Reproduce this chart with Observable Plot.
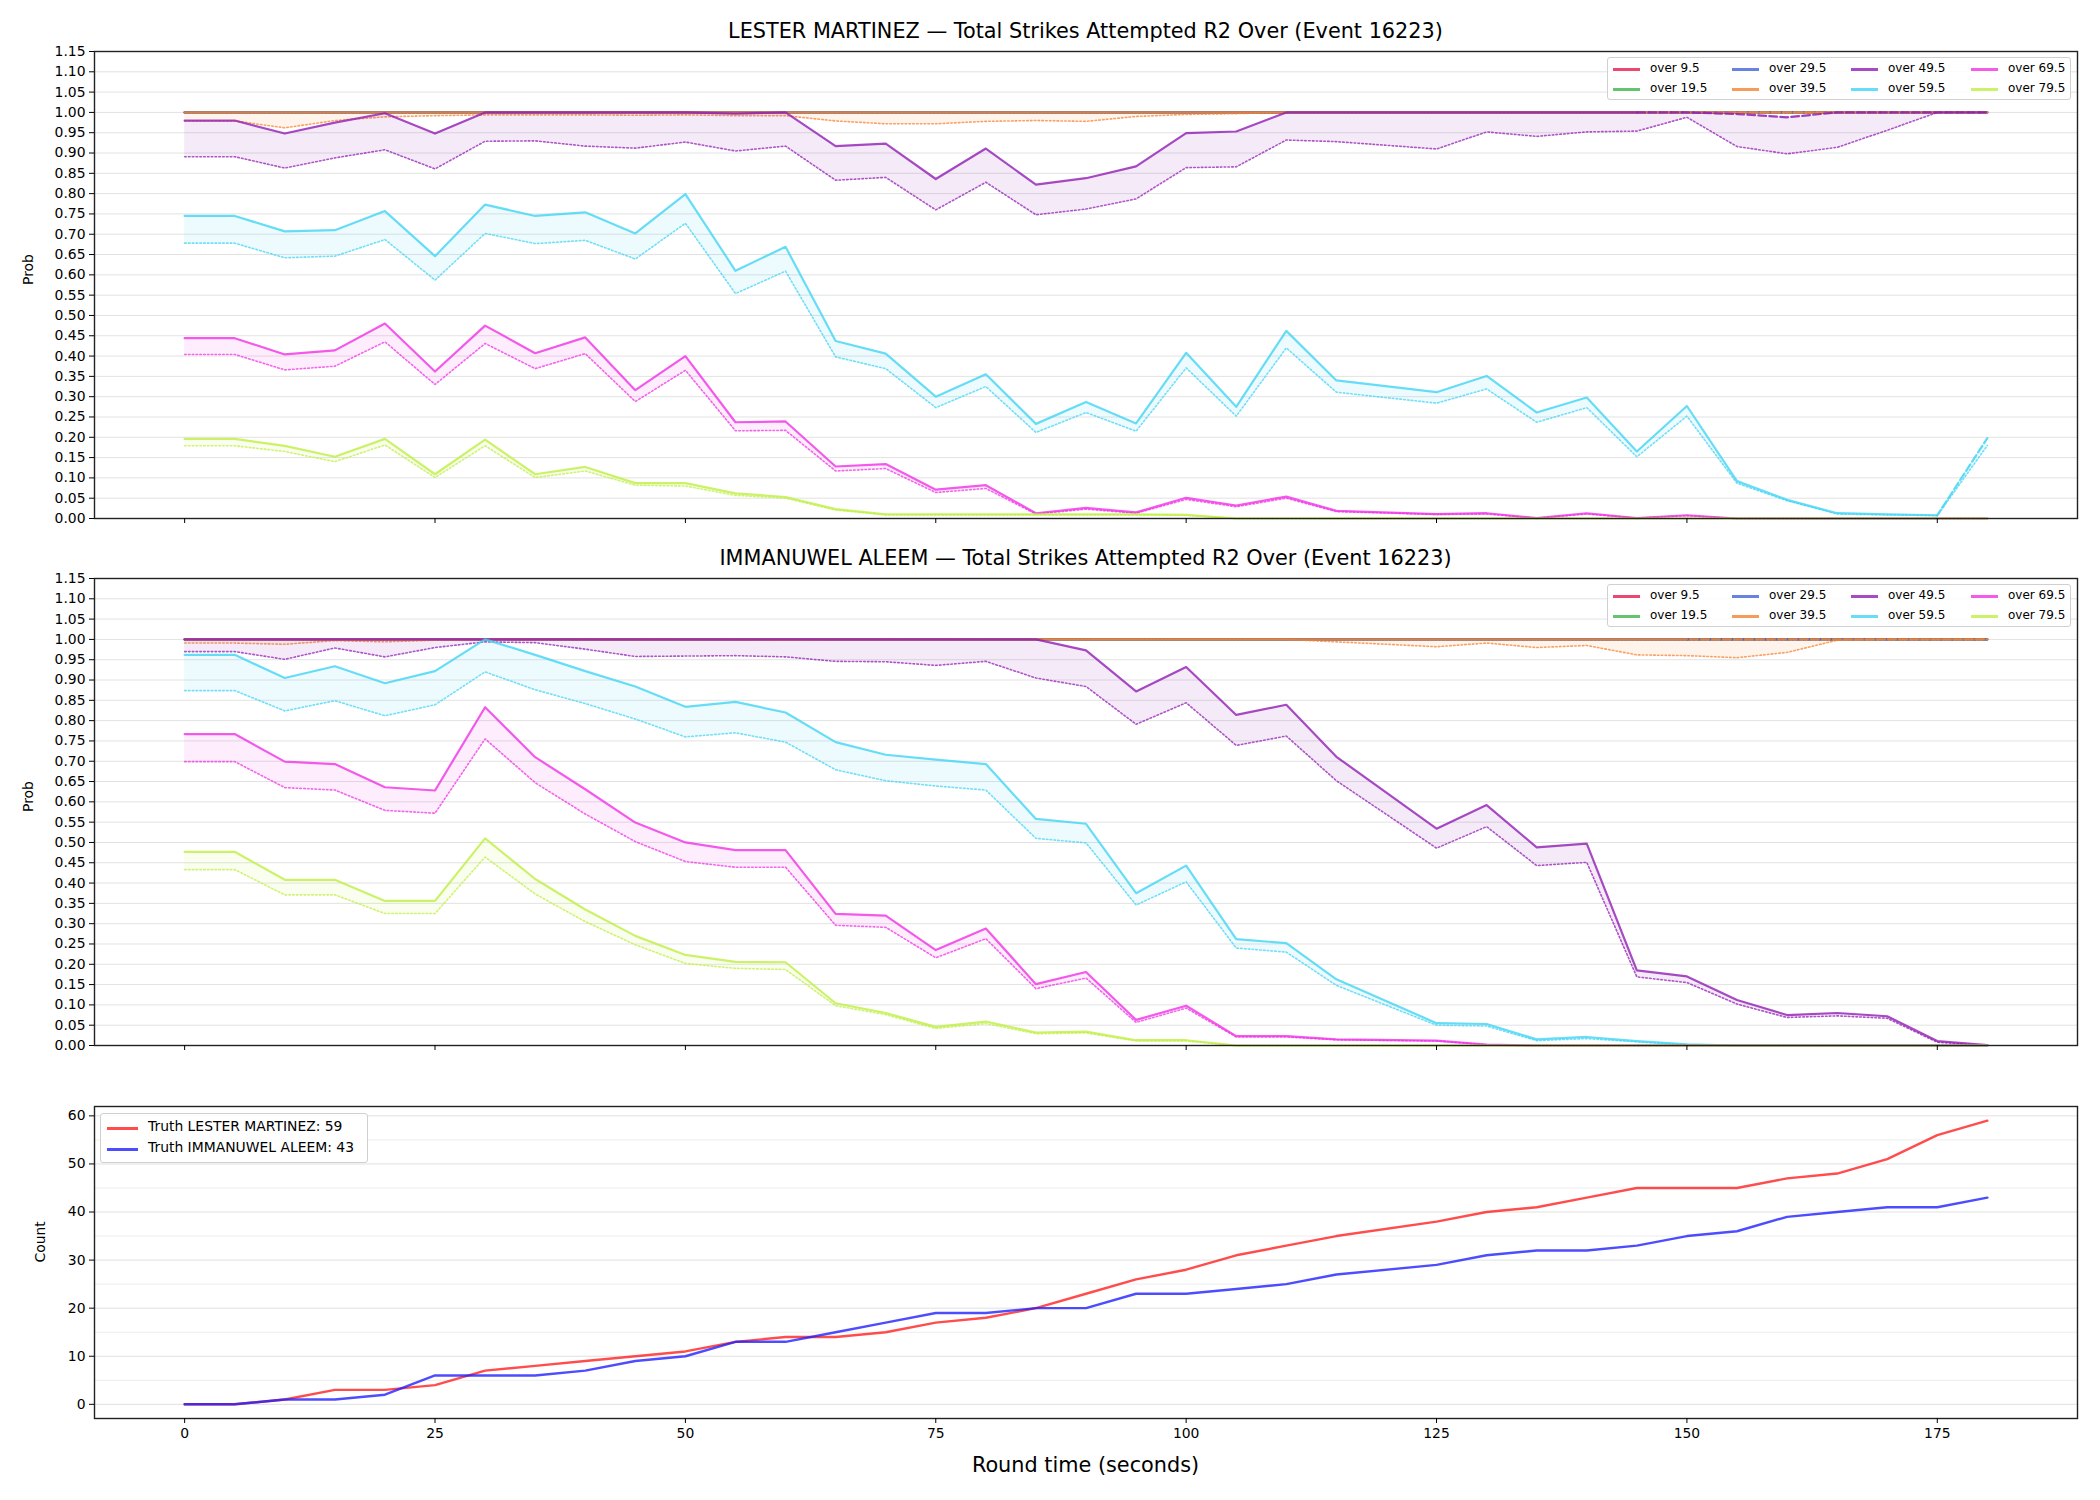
<!DOCTYPE html>
<html><head><meta charset="utf-8">
<script src="https://cdn.jsdelivr.net/npm/d3@7"></script>
<script src="https://cdn.jsdelivr.net/npm/@observablehq/plot@0.6"></script>
<style>
body{margin:0;background:#fff;}
#root{position:relative;width:2100px;height:1500px;font-family:"DejaVu Sans",sans-serif;color:#000;overflow:hidden;background:#fff;}
.title{position:absolute;left:94px;width:1983px;text-align:center;font-size:20.8px;line-height:24px;white-space:nowrap;}
.legend{position:absolute;border:1px solid #d0d0d0;border-radius:3px;background:rgba(255,255,255,0.85);box-sizing:border-box;}
.sw{position:absolute;height:0;}
.lt{position:absolute;white-space:nowrap;line-height:1;}
</style></head><body><div id="root"></div>
<script>
// ---------- data ----------
const times = [0,5,10,15,20,25,30,35,40,45,50,55,60,65,70,75,80,85,90,95,100,105,110,115,125,130,135,140,145,150,155,160,165,170,175,180];
const seriesNames = ["over 9.5","over 19.5","over 29.5","over 39.5","over 49.5","over 59.5","over 69.5","over 79.5"];
const seriesColors = ["#e6194b","#3cb44b","#4363d8","#f58231","#911eb4","#42d4f4","#f032e6","#bfef45"];
const probTicks = [0,0.05,0.10,0.15,0.20,0.25,0.30,0.35,0.40,0.45,0.50,0.55,0.60,0.65,0.70,0.75,0.80,0.85,0.90,0.95,1.00,1.05,1.10,1.15];
const timeTicks = [0,25,50,75,100,125,150,175];
const countTicks = [0,10,20,30,40,50,60];
const countGrid = [0,5,10,15,20,25,30,35,40,45,50,55,60];

// Panel 1: LESTER MARTINEZ
const lm_p09 = [1,1,1,1,1,1,1,1,1,1,1,1,1,1,1,1,1,1,1,1,1,1,1,1,1,1,1,1,1,1,1,1,1,1,1,1];
const lm_p19 = [1,1,1,1,1,1,1,1,1,1,1,1,1,1,1,1,1,1,1,1,1,1,1,1,1,1,1,1,1,1,1,1,1,1,1,1];
const lm_p29 = [1,1,1,1,1,1,1,1,1,1,1,1,1,1,1,1,1,1,1,1,1,1,1,1,1,1,1,1,1,1,1,1,1,1,1,1];
const lm_p39 = [1,1,1,1,1,1,1,1,1,1,1,1,1,1,1,1,1,1,1,1,1,1,1,1,1,1,1,1,1,1,1,1,1,1,1,1];
const lm_p49 = [0.980,0.980,0.948,0.975,0.998,0.948,1,1,1,1,1,0.997,1,0.917,0.923,0.836,0.911,0.822,0.838,0.867,0.949,0.953,1,1,1,1,1,1,1,1,0.996,0.988,1,1,1,1];
const lm_p59 = [0.745,0.745,0.707,0.710,0.757,0.646,0.773,0.745,0.754,0.702,0.799,0.610,0.669,0.437,0.406,0.300,0.355,0.233,0.287,0.234,0.408,0.275,0.462,0.340,0.311,0.351,0.261,0.298,0.165,0.277,0.092,0.046,0.013,0.010,0.008,0.198];
const lm_p69 = [0.444,0.444,0.404,0.414,0.480,0.362,0.475,0.407,0.446,0.316,0.400,0.237,0.239,0.128,0.134,0.071,0.082,0.013,0.026,0.015,0.051,0.032,0.054,0.019,0.011,0.013,0.001,0.013,0.001,0.008,0,0,0,0,0,0];
const lm_p79 = [0.196,0.196,0.179,0.152,0.196,0.109,0.194,0.109,0.127,0.087,0.087,0.062,0.053,0.023,0.010,0.010,0.010,0.010,0.010,0.010,0.009,0,0,0,0,0,0,0,0,0,0,0,0,0,0,0];
const lm_l09 = [1,1,1,1,1,1,1,1,1,1,1,1,1,1,1,1,1,1,1,1,1,1,1,1,1,1,1,1,1,1,1,1,1,1,1,1];
const lm_l19 = [1,1,1,1,1,1,1,1,1,1,1,1,1,1,1,1,1,1,1,1,1,1,1,1,1,1,1,1,1,1,1,1,1,1,1,1];
const lm_l29 = [1,1,1,1,1,1,1,1,1,1,1,1,1,1,1,1,1,1,1,1,1,1,1,1,1,1,1,1,1,1,1,1,1,1,1,1];
const lm_l39 = [0.979,0.979,0.962,0.980,0.989,0.992,0.994,0.994,0.994,0.993,0.994,0.992,0.992,0.979,0.972,0.972,0.978,0.980,0.978,0.990,0.995,0.997,1,1,1,1,1,1,1,1,1,1,1,1,1,1];
const lm_l49 = [0.891,0.891,0.863,0.888,0.908,0.861,0.929,0.930,0.917,0.912,0.927,0.905,0.917,0.833,0.840,0.760,0.828,0.748,0.762,0.787,0.864,0.866,0.932,0.928,0.910,0.952,0.941,0.952,0.954,0.988,0.916,0.898,0.914,0.956,1,1];
const lm_l59 = [0.678,0.678,0.642,0.646,0.687,0.587,0.702,0.677,0.685,0.639,0.727,0.554,0.609,0.398,0.369,0.273,0.325,0.212,0.261,0.215,0.371,0.252,0.420,0.311,0.284,0.319,0.237,0.273,0.152,0.252,0.087,0.044,0.011,0.009,0.007,0.180];
const lm_l69 = [0.404,0.404,0.366,0.375,0.435,0.330,0.431,0.369,0.406,0.288,0.365,0.216,0.217,0.117,0.123,0.064,0.074,0.011,0.023,0.013,0.047,0.029,0.050,0.017,0.010,0.011,0.001,0.011,0.001,0.007,0,0,0,0,0,0];
const lm_l79 = [0.179,0.179,0.165,0.140,0.181,0.101,0.179,0.101,0.117,0.082,0.080,0.057,0.050,0.021,0.009,0.009,0.009,0.009,0.009,0.009,0.008,0,0,0,0,0,0,0,0,0,0,0,0,0,0,0];
const lm_dashFrom = [145,145,145,145,145,175,null,null];

// Panel 2: IMMANUWEL ALEEM
const ia_p09 = [1,1,1,1,1,1,1,1,1,1,1,1,1,1,1,1,1,1,1,1,1,1,1,1,1,1,1,1,1,1,1,1,1,1,1,1];
const ia_p19 = [1,1,1,1,1,1,1,1,1,1,1,1,1,1,1,1,1,1,1,1,1,1,1,1,1,1,1,1,1,1,1,1,1,1,1,1];
const ia_p29 = [1,1,1,1,1,1,1,1,1,1,1,1,1,1,1,1,1,1,1,1,1,1,1,1,1,1,1,1,1,1,1,1,1,1,1,1];
const ia_p39 = [1,1,1,1,1,1,1,1,1,1,1,1,1,1,1,1,1,1,1,1,1,1,1,1,1,1,1,1,1,1,1,1,1,1,1,1];
const ia_p49 = [1,1,1,1,1,1,1,1,1,1,1,1,1,1,1,1,1,1,0.973,0.872,0.932,0.814,0.839,0.711,0.534,0.592,0.488,0.497,0.185,0.170,0.112,0.075,0.080,0.072,0.011,0.001];
const ia_p59 = [0.962,0.962,0.905,0.934,0.892,0.922,1,0.962,0.922,0.884,0.834,0.846,0.820,0.747,0.716,0.704,0.693,0.558,0.546,0.375,0.443,0.262,0.252,0.163,0.055,0.053,0.015,0.021,0.011,0.003,0,0,0,0,0,0];
const ia_p69 = [0.767,0.767,0.699,0.693,0.636,0.628,0.833,0.710,0.631,0.549,0.500,0.481,0.481,0.324,0.320,0.235,0.288,0.151,0.181,0.063,0.098,0.023,0.023,0.015,0.012,0.002,0,0,0,0,0,0,0,0,0,0];
const ia_p79 = [0.477,0.477,0.408,0.408,0.356,0.356,0.510,0.410,0.335,0.270,0.223,0.206,0.205,0.104,0.080,0.046,0.059,0.032,0.034,0.013,0.013,0,0,0,0,0,0,0,0,0,0,0,0,0,0,0];
const ia_l09 = [1,1,1,1,1,1,1,1,1,1,1,1,1,1,1,1,1,1,1,1,1,1,1,1,1,1,1,1,1,1,1,1,1,1,1,1];
const ia_l19 = [1,1,1,1,1,1,1,1,1,1,1,1,1,1,1,1,1,1,1,1,1,1,1,1,1,1,1,1,1,1,1,1,1,1,1,1];
const ia_l29 = [1,1,1,1,1,1,1,1,1,1,1,1,1,1,1,1,1,1,1,1,1,1,1,1,1,1,1,1,1,1,1,1,1,1,1,1];
const ia_l39 = [0.991,0.991,0.988,0.997,0.994,0.998,1,1,1,1,1,1,0.998,1,1,1,1,1,1,1,1,1,1,0.994,0.982,0.991,0.980,0.985,0.962,0.960,0.955,0.968,0.998,1,1,1];
const ia_l49 = [0.970,0.970,0.951,0.979,0.957,0.980,0.994,0.992,0.976,0.958,0.959,0.960,0.957,0.946,0.945,0.936,0.946,0.905,0.884,0.791,0.844,0.739,0.762,0.652,0.486,0.539,0.443,0.451,0.169,0.155,0.102,0.069,0.073,0.067,0.008,0];
const ia_l59 = [0.874,0.874,0.824,0.849,0.812,0.839,0.920,0.876,0.842,0.804,0.760,0.770,0.747,0.679,0.652,0.639,0.629,0.510,0.499,0.346,0.403,0.240,0.230,0.148,0.050,0.048,0.012,0.017,0.009,0.002,0,0,0,0,0,0];
const ia_l69 = [0.699,0.699,0.635,0.629,0.579,0.572,0.755,0.647,0.570,0.502,0.453,0.439,0.439,0.296,0.291,0.216,0.263,0.140,0.166,0.057,0.092,0.021,0.021,0.014,0.011,0.002,0,0,0,0,0,0,0,0,0,0];
const ia_l79 = [0.433,0.433,0.371,0.371,0.325,0.325,0.464,0.373,0.305,0.248,0.202,0.190,0.187,0.098,0.076,0.042,0.054,0.029,0.031,0.011,0.011,0,0,0,0,0,0,0,0,0,0,0,0,0,0,0];
const ia_dashFrom = [150,150,150,150,null,null,null,null];

// Panel 3: truth counts
const truthLester = [0,0,1,3,3,4,7,8,9,10,11,13,14,14,15,17,18,20,23,26,28,31,33,35,38,40,41,43,45,45,45,47,48,51,56,59];
const truthAleem  = [0,0,1,1,2,6,6,6,7,9,10,13,13,15,17,19,19,20,20,23,23,24,25,27,29,31,32,32,33,35,36,39,40,41,41,43];
const truthNames = ["Truth LESTER MARTINEZ: 59","Truth IMMANUWEL ALEEM: 43"];
const truthColors = ["#ff2020","#2020ff"];

const titles = ["LESTER MARTINEZ \u2014 Total Strikes Attempted R2 Over (Event 16223)",
                "IMMANUWEL ALEEM \u2014 Total Strikes Attempted R2 Over (Event 16223)"];

// ---------- drawing ----------
const root = document.getElementById("root");
const FONT = "DejaVu Sans";
const W = 2100, ML = 94, MR = 23;

function place(el, top, left) {
  el.style.position = "absolute";
  el.style.top = top + "px";
  el.style.left = (left || 0) + "px";
  root.appendChild(el);
}

function probPanel(P, L, dashFrom, top) {
  const marks = [Plot.ruleY(probTicks, {y: d => d, stroke: "#e2e2e2", strokeWidth: 1})];
  seriesNames.forEach((name, k) => {
    const rows = times.map((t, i) => ({t, p: P[k][i], lo: L[k][i]}));
    const c = seriesColors[k];
    marks.push(Plot.areaY(rows, {x: "t", y1: "lo", y2: "p", fill: c, fillOpacity: 0.09}));
    marks.push(Plot.line(rows, {x: "t", y: "lo", stroke: c, strokeWidth: 1.6, strokeOpacity: 0.75, strokeDasharray: "1.6,2.2"}));
    const df = dashFrom[k];
    const solid = df == null ? rows : rows.filter(d => d.t <= df);
    const dashed = df == null ? [] : rows.filter(d => d.t >= df);
    marks.push(Plot.line(solid, {x: "t", y: "p", stroke: c, strokeWidth: 2.2, strokeOpacity: 0.8}));
    if (dashed.length) marks.push(Plot.line(dashed, {x: "t", y: "p", stroke: c, strokeWidth: 2.2, strokeOpacity: 0.85, strokeDasharray: "7.7,3.3", strokeDashoffset: k * 2.6}));
  });
  marks.push(Plot.frame({stroke: "#222", strokeWidth: 1.4}));
  marks.push(Plot.axisY(probTicks, {tickSize: 5, tickPadding: 4, tickFormat: d3.format(".2f"), fontSize: 13.9, label: null}));
  marks.push(Plot.axisX(timeTicks, {tickSize: 5, tickFormat: () => "", label: null}));
  marks.push(Plot.text(["Prob"], {frameAnchor: "left", dx: -66, rotate: -90, fontSize: 13.9, text: d => d}));
  const svg = Plot.plot({
    width: W, height: 540, marginTop: 51, marginBottom: 22, marginLeft: ML, marginRight: MR,
    x: {domain: [-9, 189]}, y: {domain: [0, 1.15]},
    style: {fontFamily: FONT, background: "transparent", overflow: "visible"},
    marks
  });
  place(svg, top - 51, 0);
}

function legendProb(plotTop) {
  const box = document.createElement("div");
  box.className = "legend";
  box.style.left = "1607px"; box.style.top = (plotTop + 6) + "px";
  box.style.width = "464px"; box.style.height = "43px";
  const colX = [5, 124, 243, 363];
  const rowY = [11, 31];
  seriesNames.forEach((name, k) => {
    const col = Math.floor(k / 2), row = k % 2;
    const sw = document.createElement("div");
    sw.className = "sw";
    sw.style.left = colX[col] + "px"; sw.style.top = (rowY[row] - 1.5) + "px";
    sw.style.width = "27px"; sw.style.borderTop = "3px solid " + seriesColors[k];
    sw.style.opacity = "0.8";
    box.appendChild(sw);
    const tx = document.createElement("div");
    tx.className = "lt";
    tx.style.left = (colX[col] + 37) + "px"; tx.style.top = (rowY[row] - 7) + "px";
    tx.style.fontSize = "12px";
    tx.textContent = name;
    box.appendChild(tx);
  });
  root.appendChild(box);
}

function title(text, cy) {
  const d = document.createElement("div");
  d.className = "title";
  d.style.top = (cy - 12) + "px";
  d.textContent = text;
  root.appendChild(d);
}

// Panel 1 & 2
probPanel([lm_p09, lm_p19, lm_p29, lm_p39, lm_p49, lm_p59, lm_p69, lm_p79],
          [lm_l09, lm_l19, lm_l29, lm_l39, lm_l49, lm_l59, lm_l69, lm_l79], lm_dashFrom, 51);
legendProb(51);
title(titles[0], 31);

probPanel([ia_p09, ia_p19, ia_p29, ia_p39, ia_p49, ia_p59, ia_p69, ia_p79],
          [ia_l09, ia_l19, ia_l29, ia_l39, ia_l49, ia_l59, ia_l69, ia_l79], ia_dashFrom, 578);
legendProb(578);
title(titles[1], 558);

// Panel 3
{
  const rows = [];
  [truthLester, truthAleem].forEach((arr, k) => times.forEach((t, i) => rows.push({t, v: arr[i], who: truthNames[k]})));
  const marks = [
    Plot.ruleY(countGrid, {y: d => d, stroke: d => (d % 10 === 0 ? "#e0e0e0" : "#ededed"), strokeWidth: 1}),
    Plot.line(rows.filter(d => d.who === truthNames[0]), {x: "t", y: "v", stroke: truthColors[0], strokeWidth: 2.4, strokeOpacity: 0.8}),
    Plot.line(rows.filter(d => d.who === truthNames[1]), {x: "t", y: "v", stroke: truthColors[1], strokeWidth: 2.4, strokeOpacity: 0.8}),
    Plot.frame({stroke: "#222", strokeWidth: 1.4}),
    Plot.axisY(countTicks, {tickSize: 5, tickPadding: 4, fontSize: 13.9, label: null}),
    Plot.axisX(timeTicks, {tickSize: 5, tickPadding: 5, fontSize: 13.9, label: null}),
    Plot.text(["Count"], {frameAnchor: "left", dx: -54, rotate: -90, fontSize: 13.9, text: d => d})
  ];
  const svg = Plot.plot({
    width: W, height: 445, marginTop: 51, marginBottom: 82, marginLeft: ML, marginRight: MR,
    x: {domain: [-9, 189]}, y: {domain: [-2.95, 61.95]},
    color: {type: "identity"},
    style: {fontFamily: FONT, background: "transparent", overflow: "visible"},
    marks
  });
  place(svg, 1055, 0);

  const box = document.createElement("div");
  box.className = "legend";
  box.style.left = "100px"; box.style.top = "1113px";
  box.style.width = "268px"; box.style.height = "50px";
  truthNames.forEach((name, k) => {
    const cy = [14, 35][k];
    const sw = document.createElement("div");
    sw.className = "sw";
    sw.style.left = "6px"; sw.style.top = (cy - 1.5) + "px";
    sw.style.width = "31px"; sw.style.borderTop = "3px solid " + truthColors[k];
    sw.style.opacity = "0.8";
    box.appendChild(sw);
    const tx = document.createElement("div");
    tx.className = "lt";
    tx.style.left = "47px"; tx.style.top = (cy - 8) + "px";
    tx.style.fontSize = "13.9px";
    tx.textContent = name;
    box.appendChild(tx);
  });
  root.appendChild(box);

  const xl = document.createElement("div");
  xl.style.position = "absolute"; xl.style.left = ML + "px"; xl.style.width = (W - ML - MR) + "px";
  xl.style.top = "1452px"; xl.style.textAlign = "center"; xl.style.fontSize = "20.8px"; xl.style.lineHeight = "26px";
  xl.textContent = "Round time (seconds)";
  root.appendChild(xl);
}
</script></body></html>
